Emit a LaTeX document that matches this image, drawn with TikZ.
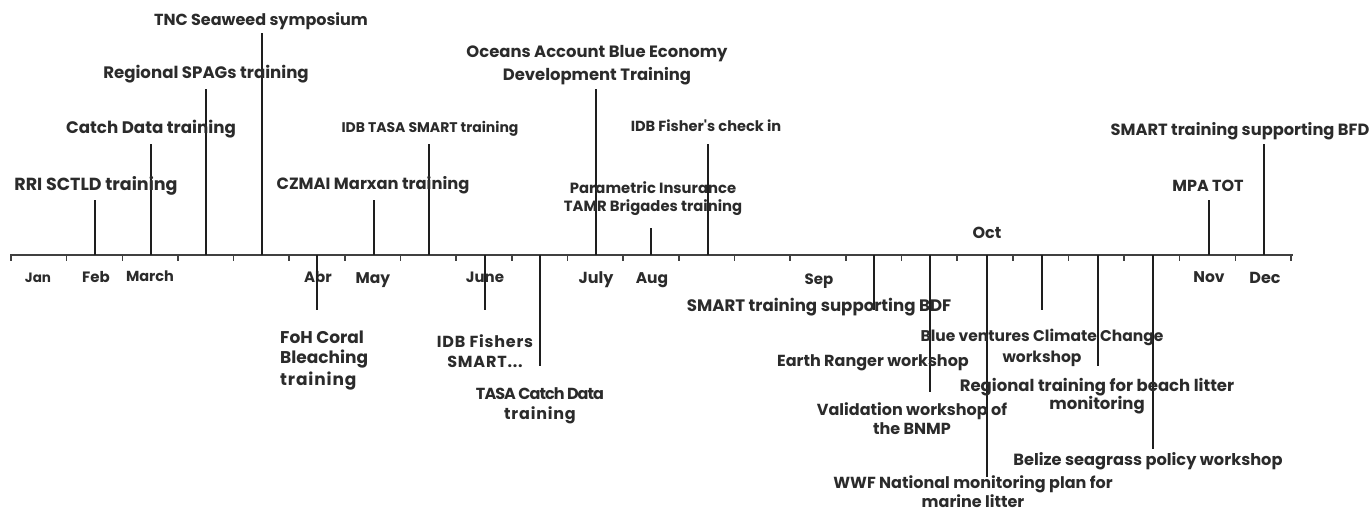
\documentclass[tikz,border=0pt]{standalone}
\usepackage{fontspec}
\setmainfont{Poppins}
\definecolor{ink}{HTML}{2B2B2B}
\definecolor{rule}{HTML}{1E1E1E}
\newcommand{\fsz}[2]{\fontsize{#1}{#2}\selectfont\bfseries}
\begin{document}
\begin{tikzpicture}[x=1pt,y=-1pt,
  lbl/.style={font=\fsz{16}{20}, text=ink, inner sep=0pt, align=center, anchor=base},
  mon/.style={lbl, font=\fsz{14.5}{18}},
  stem/.style={draw=rule, line width=1.8pt},
  axis/.style={draw=rule!85, line width=1.8pt},
  tick/.style={draw=rule!85, line width=1.6pt}]
\useasboundingbox (0,0) rectangle (1372,511);
% axis
\coordinate (ax0) at (11,255);
\coordinate (ax1) at (1293,255);
\draw[axis] (ax0) -- (ax1);
\foreach \k in {0,...,23} {\draw[tick] (11+55.65*\k,254) -- (11+55.65*\k,261);}
% months
\node[mon,font=\fsz{13.5}{18}] (jan) at (38,282) {Jan};
\node[mon,font=\fsz{15}{18}] (feb) at (96,282) {Feb};
\node[mon] (mar) at (150,281) {March};
\node[mon,font=\fsz{15}{18}] (abr) at (318,282) {Abr};
\node[mon,font=\fsz{15.5}{18}] (may) at (373,283) {May};
\node[mon,font=\fsz{15}{18}] (jun) at (485,282) {June};
\node[mon,font=\fsz{16}{18}] (jul) at (596,283) {July};
\node[mon,font=\fsz{15.5}{18}] (aug) at (652,283) {Aug};
\node[mon,font=\fsz{15}{18}] (sep) at (819,284) {Sep};
\node[mon,font=\fsz{16}{18}] (oct) at (987,238) {Oct};
\node[mon,font=\fsz{15.5}{18}] (nov) at (1209,282) {Nov};
\node[mon,font=\fsz{16}{18}] (dec) at (1265,283) {Dec};
% upward events
\coordinate (u1a) at (95,255);   \coordinate (u1b) at (95,200);
\coordinate (u2a) at (151,255);  \coordinate (u2b) at (151,144);
\coordinate (u3a) at (206,255);  \coordinate (u3b) at (206,89);
\coordinate (u4a) at (262,255);  \coordinate (u4b) at (262,33);
\coordinate (u5a) at (374,255);  \coordinate (u5b) at (374,200);
\coordinate (u6a) at (429,255);  \coordinate (u6b) at (429,144);
\coordinate (u7a) at (596,255);  \coordinate (u7b) at (596,89);
\coordinate (u8a) at (651,255);  \coordinate (u8b) at (651,228);
\coordinate (u9a) at (708,255);  \coordinate (u9b) at (708,144);
\coordinate (u10a) at (1209,255); \coordinate (u10b) at (1209,200);
\coordinate (u11a) at (1264,255); \coordinate (u11b) at (1264,144);
\foreach \i in {1,...,11} {\draw[stem] (u\i a) -- (u\i b);}
% downward events
\coordinate (d1a) at (317,255);  \coordinate (d1b) at (317,310);
\coordinate (d2a) at (485,255);  \coordinate (d2b) at (485,310);
\coordinate (d3a) at (540,255);  \coordinate (d3b) at (540,366);
\coordinate (d4a) at (874,255);  \coordinate (d4b) at (874,310);
\coordinate (d5a) at (930,255);  \coordinate (d5b) at (930,392);
\coordinate (d6a) at (987,255);  \coordinate (d6b) at (987,477);
\coordinate (d7a) at (1042,255); \coordinate (d7b) at (1042,310);
\coordinate (d8a) at (1098,255); \coordinate (d8b) at (1098,366);
\coordinate (d9a) at (1153,255); \coordinate (d9b) at (1153,449);
\foreach \i in {1,...,9} {\draw[stem] (d\i a) -- (d\i b);}
% upper labels
\node[lbl,font=\fsz{17.5}{20}] (l1) at (96,190) {RRI SCTLD training};
\node[lbl,font=\fsz{16.7}{20}] (l2) at (151,133) {Catch Data training};
\node[lbl,font=\fsz{16.6}{20}] (l3) at (206,78) {Regional SPAGs training};
\node[lbl] (l4) at (261,26) {TNC Seaweed symposium};
\node[lbl,font=\fsz{16.3}{20}] (l5) at (373,189) {CZMAI Marxan training};
\node[lbl,font=\fsz{14}{18}] (l6) at (430,132) {IDB TASA SMART training};
\node[lbl,font=\fsz{16.4}{23}] (l7) at (597,80) {Oceans Account Blue Economy\\Development Training};
\node[lbl,font=\fsz{14.8}{18}] (l8) at (653,211) {Parametric Insurance\\TAMR Brigades training};
\node[lbl,font=\fsz{14.6}{18}] (l9) at (706,131) {IDB Fisher\textquotesingle s check in};
\node[lbl] (l10) at (1208,191) {MPA TOT};
\node[lbl,font=\fsz{16.25}{20}] (l11) at (1240,135) {SMART training supporting BFD};
% lower labels
\node[lbl,align=left,anchor=base west,font=\fsz{17}{20}] (m1) at (280,385) {FoH Coral\\Bleaching\\[2pt]\addfontfeature{LetterSpace=5}training};
\node[lbl] (m2) at (485,367) {\addfontfeature{LetterSpace=5}IDB Fishers\\\addfontfeature{LetterSpace=5}SMART...};
\node[lbl] (m3) at (540,419) {\addfontfeature{LetterSpace=-6}TASA Catch Data\\\addfontfeature{LetterSpace=5}training};
\node[lbl,font=\fsz{16.6}{20}] (m4) at (819,311) {SMART training supporting BDF};
\node[lbl] (m5) at (873,366) {Earth Ranger workshop};
\node[lbl,font=\fsz{16}{19}] (m6) at (912,434) {Validation workshop of\\the BNMP};
\node[lbl,font=\fsz{16}{17}] (m7) at (973,507) {WWF National monitoring plan for\\marine litter};
\node[lbl,font=\fsz{15.5}{21}] (m8) at (1042,362) {Blue ventures Climate Change\\workshop};
\node[lbl,font=\fsz{16.5}{18}] (m9) at (1097,409) {Regional training for beach litter\\monitoring};
\node[lbl,font=\fsz{16.2}{20}] (m10) at (1148,465) {Belize seagrass policy workshop};
\end{tikzpicture}
\end{document}
